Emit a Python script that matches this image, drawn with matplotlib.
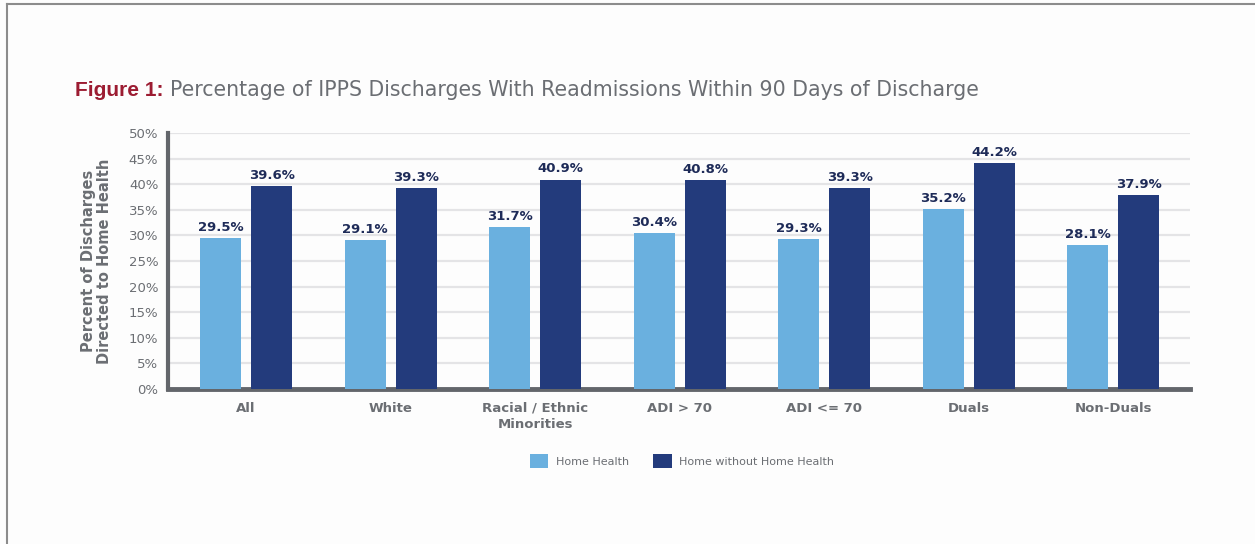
import matplotlib.pyplot as plt
import numpy as np
from matplotlib.patches import Patch
from matplotlib.lines import Line2D

plt.rcParams['font.family'] = ['DejaVu Sans']

categories = ['All', 'White', 'Racial / Ethnic\nMinorities', 'ADI > 70', 'ADI <= 70', 'Duals', 'Non-Duals']
home_health = [29.5, 29.1, 31.7, 30.4, 29.3, 35.2, 28.1]
home_without_hh = [39.6, 39.3, 40.9, 40.8, 39.3, 44.2, 37.9]
series_names = ['Home Health', 'Home without Home Health']

light_blue = '#6ab0df'
navy = '#233b7c'
label_navy = '#1e2b58'
gray_text = '#6b6e73'
spine_gray = '#63666b'

fig = plt.figure(figsize=(12.55, 5.44), dpi=100)
fig.patch.set_facecolor('#fdfdfd')
ax = fig.add_axes([168 / 1255, 1 - 389 / 544, (1190 - 168) / 1255, (389 - 133) / 544])
ax.set_facecolor('#fdfdfd')

x = np.arange(len(categories))
w = 0.284
off = 0.177
b1 = ax.bar(x - off, home_health, w, color=light_blue, zorder=3)
b2 = ax.bar(x + off, home_without_hh, w, color=navy, zorder=3)

for bars in (b1, b2):
    for rect in bars:
        h = rect.get_height()
        ax.annotate(f'{h:.1f}%', (rect.get_x() + rect.get_width() / 2, h),
                    xytext=(0, 3), textcoords='offset points', ha='center', va='bottom',
                    fontsize=9.5, fontweight='bold', color=label_navy)

ax.set_xlim(-0.54, 6.53)
ax.set_ylim(0, 50)
ax.set_yticks(np.arange(0, 51, 5))
ax.set_yticklabels([f'{v}%' for v in range(0, 51, 5)], fontsize=9.5, color=gray_text)
ax.yaxis.grid(True, color='#e4e4e6', linewidth=1.6, zorder=0)
ax.set_axisbelow(True)
ax.tick_params(axis='y', length=0, pad=7)
ax.tick_params(axis='x', length=0, pad=9)
ax.set_xticks(x)
ax.set_xticklabels(categories, fontsize=9.5, fontweight='bold', color=gray_text, linespacing=1.35)

for s in ('top', 'right'):
    ax.spines[s].set_visible(False)
ax.spines['left'].set_color(spine_gray)
ax.spines['left'].set_linewidth(3)
ax.spines['bottom'].set_color(spine_gray)
ax.spines['bottom'].set_linewidth(3.5)

ax.set_ylabel('Percent of Discharges\nDirected to Home Health', fontsize=10.5, fontweight='bold',
              color=gray_text, labelpad=12, linespacing=1.1)

# title: red prefix, gray body
t1 = fig.text(75 / 1255, 1 - 90 / 544, 'Figure 1:', fontsize=15, fontweight='bold',
              family='Liberation Sans', color='#9c1c32', va='center', ha='left')
fig.canvas.draw()
bb = t1.get_window_extent()
fig.text((bb.x1 + 7) / 1255, 1 - 90 / 544,
         'Percentage of IPPS Discharges With Readmissions Within 90 Days of Discharge',
         fontsize=14.8, color=gray_text, va='center', ha='left')

handles = [Patch(facecolor=light_blue), Patch(facecolor=navy)]
fig.legend(handles, series_names, loc='center', bbox_to_anchor=(682 / 1255, 1 - 461 / 544),
           ncol=2, frameon=False, fontsize=8, handlelength=1.65, handleheight=1.65,
           handletextpad=0.65, columnspacing=2.2, labelcolor=gray_text)

# frame lines along top and left edge
fig.add_artist(Line2D([7 / 1255, 1], [1 - 4 / 544, 1 - 4 / 544], color='#8c8c8c', linewidth=1.5))
fig.add_artist(Line2D([7 / 1255, 7 / 1255], [0, 1 - 4 / 544], color='#8c8c8c', linewidth=1.5))

fig.savefig('out.png', dpi=100, facecolor=fig.get_facecolor())
